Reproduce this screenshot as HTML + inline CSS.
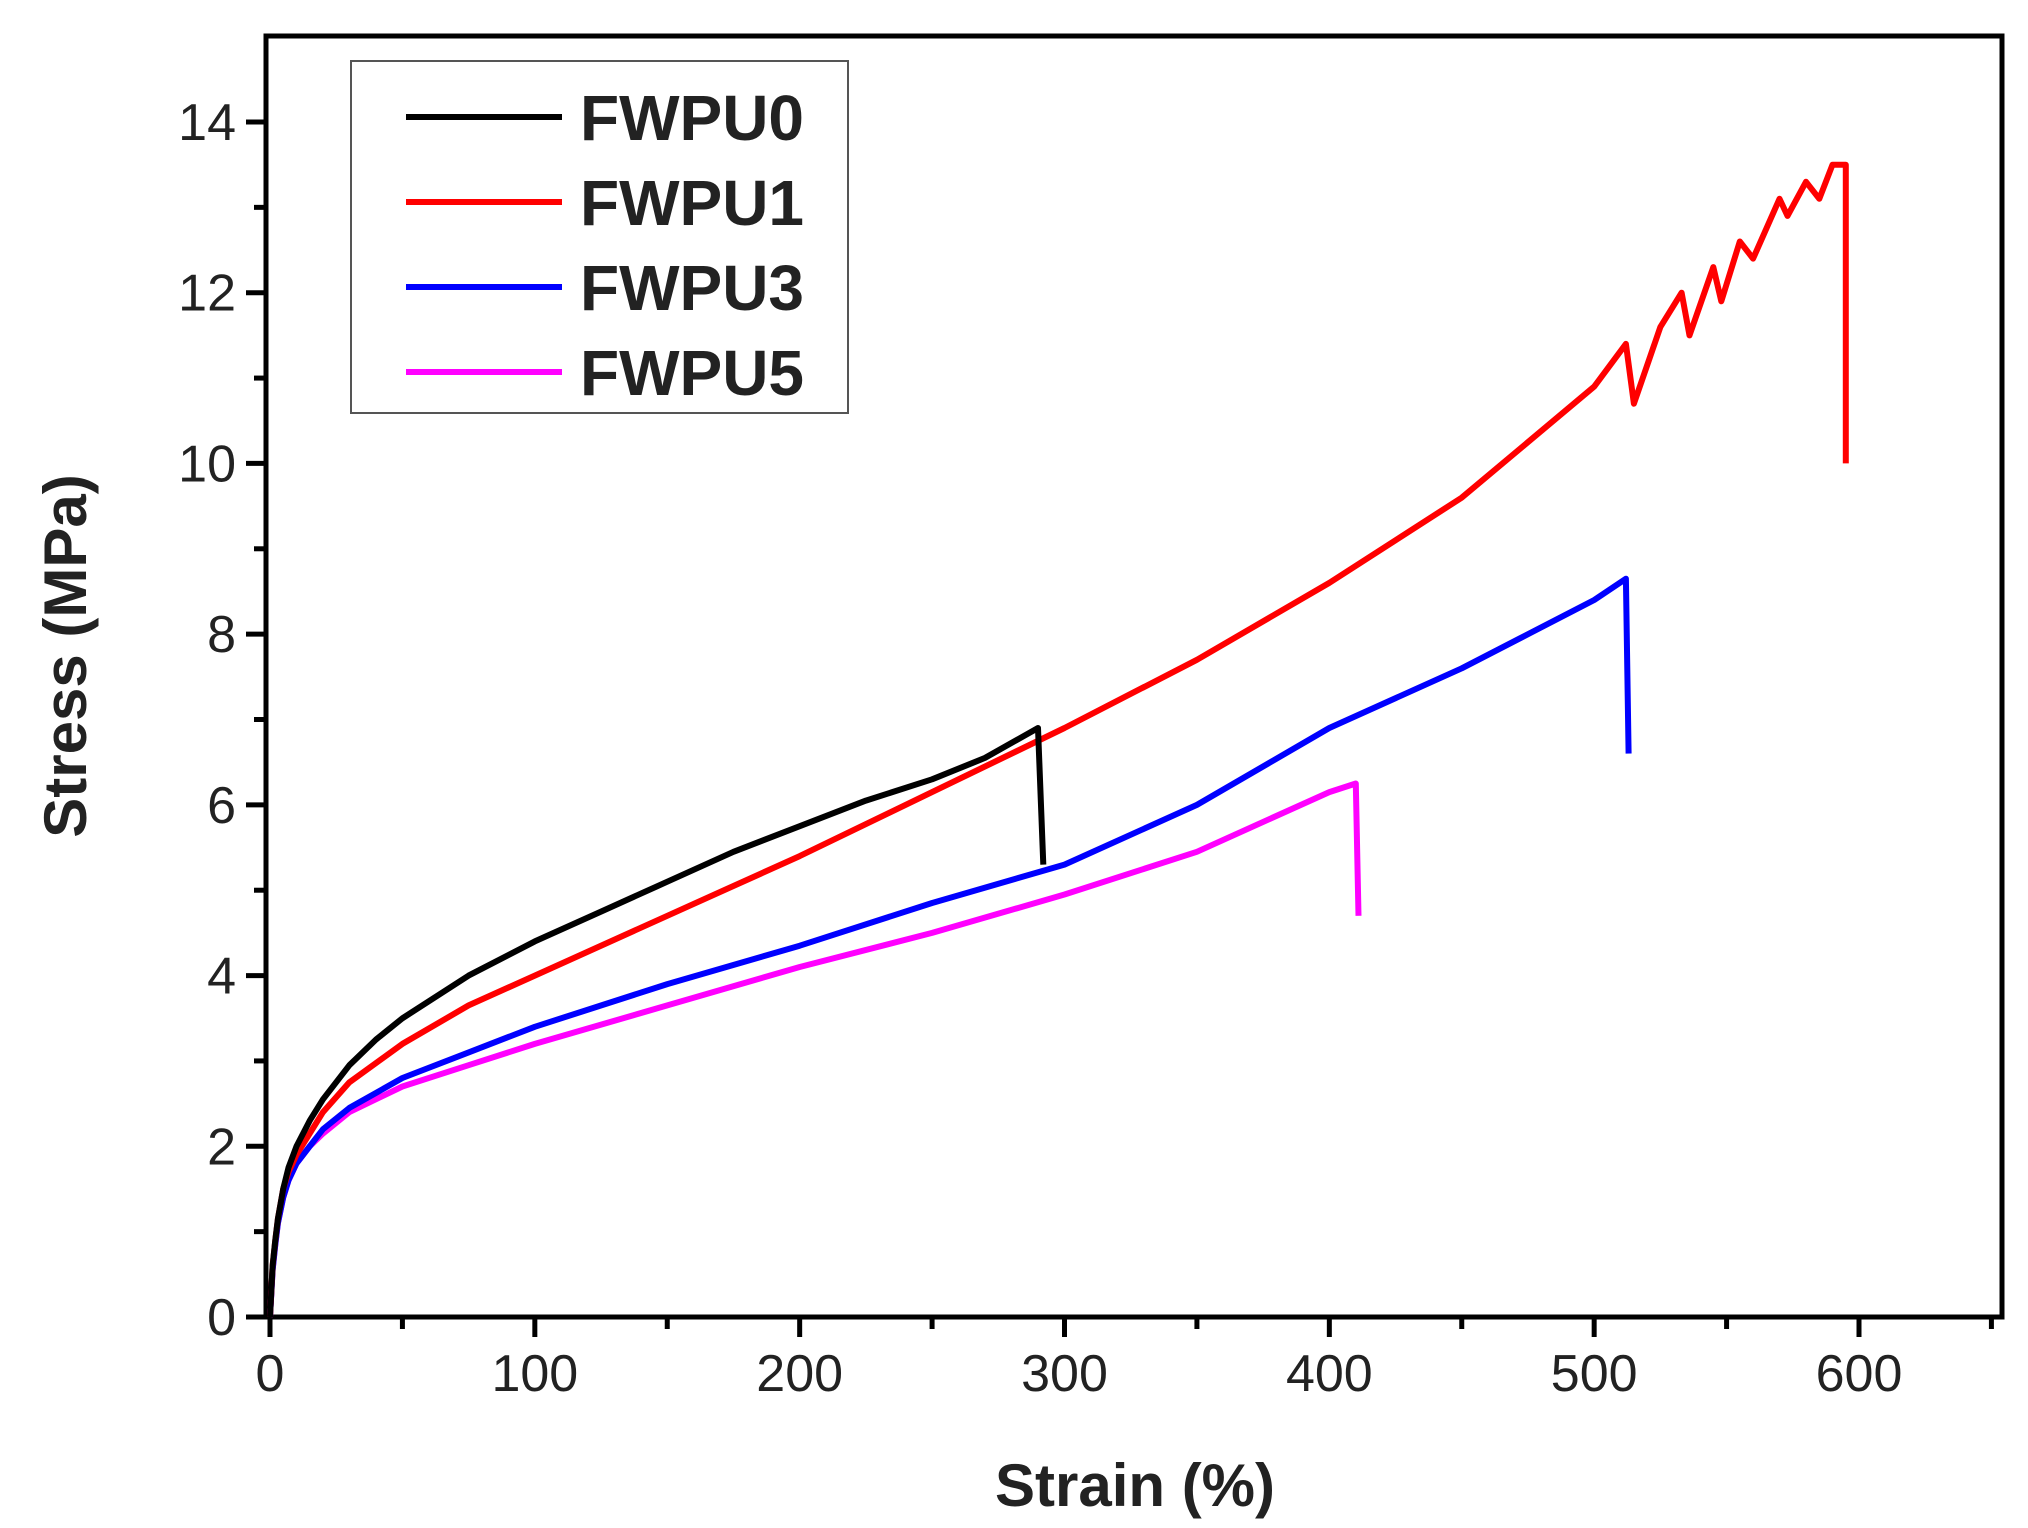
<!DOCTYPE html>
<html><head><meta charset="utf-8"><style>
body{margin:0;background:#fff;width:2028px;height:1528px;overflow:hidden}
svg{display:block}
text{font-family:"Liberation Sans",Arial,sans-serif}
</style></head><body>
<svg id="chart" width="2028" height="1528">
<g id="plot"></g>
</svg>
<script>
const xTicks=[0,100,200,300,400,500,600];
const yTicks=[0,2,4,6,8,10,12,14];
const seriesNames=["FWPU0","FWPU1","FWPU3","FWPU5"];
const seriesColors=["#000000","#ff0000","#0000ff","#ff00ff"];
const fwpu0X=[0,1,2,3,5,7,10,15,20,30,40,50,75,100,125,150,175,200,225,250,270,290,292];
const fwpu0Y=[0,0.6,0.9,1.15,1.5,1.75,2.0,2.3,2.55,2.95,3.25,3.5,4.0,4.4,4.75,5.1,5.45,5.75,6.05,6.3,6.55,6.9,5.3];
const fwpu1X=[0,1,2,3,5,7,10,15,20,30,50,75,100,150,200,250,300,350,400,450,500,512,515,525,533,536,545,548,555,560,570,573,580,585,590,595,595];
const fwpu1Y=[0,0.6,0.9,1.15,1.5,1.7,1.9,2.15,2.4,2.75,3.2,3.65,4.0,4.7,5.4,6.15,6.9,7.7,8.6,9.6,10.9,11.4,10.7,11.6,12,11.5,12.3,11.9,12.6,12.4,13.1,12.9,13.3,13.1,13.5,13.5,10];
const fwpu3X=[0,1,2,3,5,7,10,15,20,30,50,75,100,150,200,250,300,350,400,450,500,512,513];
const fwpu3Y=[0,0.55,0.85,1.1,1.4,1.6,1.8,2.0,2.2,2.45,2.8,3.1,3.4,3.9,4.35,4.85,5.3,6.0,6.9,7.6,8.4,8.65,6.6];
const fwpu5X=[0,1,2,3,5,7,10,15,20,30,50,75,100,150,200,250,300,350,400,410,411];
const fwpu5Y=[0,0.55,0.85,1.1,1.4,1.6,1.8,2.0,2.15,2.4,2.7,2.95,3.2,3.65,4.1,4.5,4.95,5.45,6.15,6.25,4.7];

const NS="http://www.w3.org/2000/svg";
const L=266,R=2002,T=36,B=1317;
const sx=v=>270+v*(1859-270)/600;
const sy=v=>1317-v*(1317-122)/14;
const g=document.getElementById('plot');
function mk(tag,at,txt){const e=document.createElementNS(NS,tag);for(const k in at)e.setAttribute(k,at[k]);if(txt!==undefined)e.textContent=txt;g.appendChild(e);return e;}

const frame=mk('rect',{x:L,y:T,width:R-L,height:B-T,fill:'none',stroke:'#000','stroke-width':5});



for(let v=0;v<=650;v+=50){
  const major=v%100===0;
  const t=mk('line',{x1:sx(v),x2:sx(v),y1:B,y2:B+(major?20:12),stroke:'#000','stroke-width':5});
  
  
}
xTicks.forEach(v=>{
  const t=mk('text',{x:sx(v),y:B+74,'font-size':52,'text-anchor':'middle',fill:'#222'},String(v));
  
  
});
for(let v=0;v<=14;v+=1){
  const major=v%2===0;
  const t=mk('line',{x1:L-(major?20:12),x2:L,y1:sy(v),y2:sy(v),stroke:'#000','stroke-width':5});
  
  
}
yTicks.forEach(v=>{
  const t=mk('text',{x:L-30,y:sy(v)+18,'font-size':52,'text-anchor':'end',fill:'#222'},String(v));
  
  
});
const xt=mk('text',{x:1135,y:1506,'font-size':60,'font-weight':'bold','text-anchor':'middle',fill:'#222'},'Strain (%)');


const yt=mk('text',{x:0,y:0,'font-size':60,'font-weight':'bold','text-anchor':'middle',fill:'#222',transform:'translate(86,656) rotate(-90)'},'Stress (MPa)');



const xs=[fwpu0X,fwpu1X,fwpu3X,fwpu5X], ys=[fwpu0Y,fwpu1Y,fwpu3Y,fwpu5Y];
[3,2,1,0].forEach(i=>{
  const d=xs[i].map((x,j)=>(j?'L':'M')+sx(x).toFixed(1)+','+sy(ys[i][j]).toFixed(1)).join(' ');
  const p=mk('path',{d:d,fill:'none',stroke:seriesColors[i],'stroke-width':6,'stroke-linejoin':'round'});
  
  
});

const lg=mk('rect',{x:351,y:61,width:497,height:352,fill:'#fff',stroke:'#555','stroke-width':2});


seriesNames.forEach((n,i)=>{
  const y=117+i*85;
  const l=mk('line',{x1:406,x2:562,y1:y,y2:y,stroke:seriesColors[i],'stroke-width':6});
  
  
  const t=mk('text',{x:580,y:y+23,'font-size':64,'font-weight':'bold',fill:'#222'},n);
  
  
});
</script>
</body></html>
